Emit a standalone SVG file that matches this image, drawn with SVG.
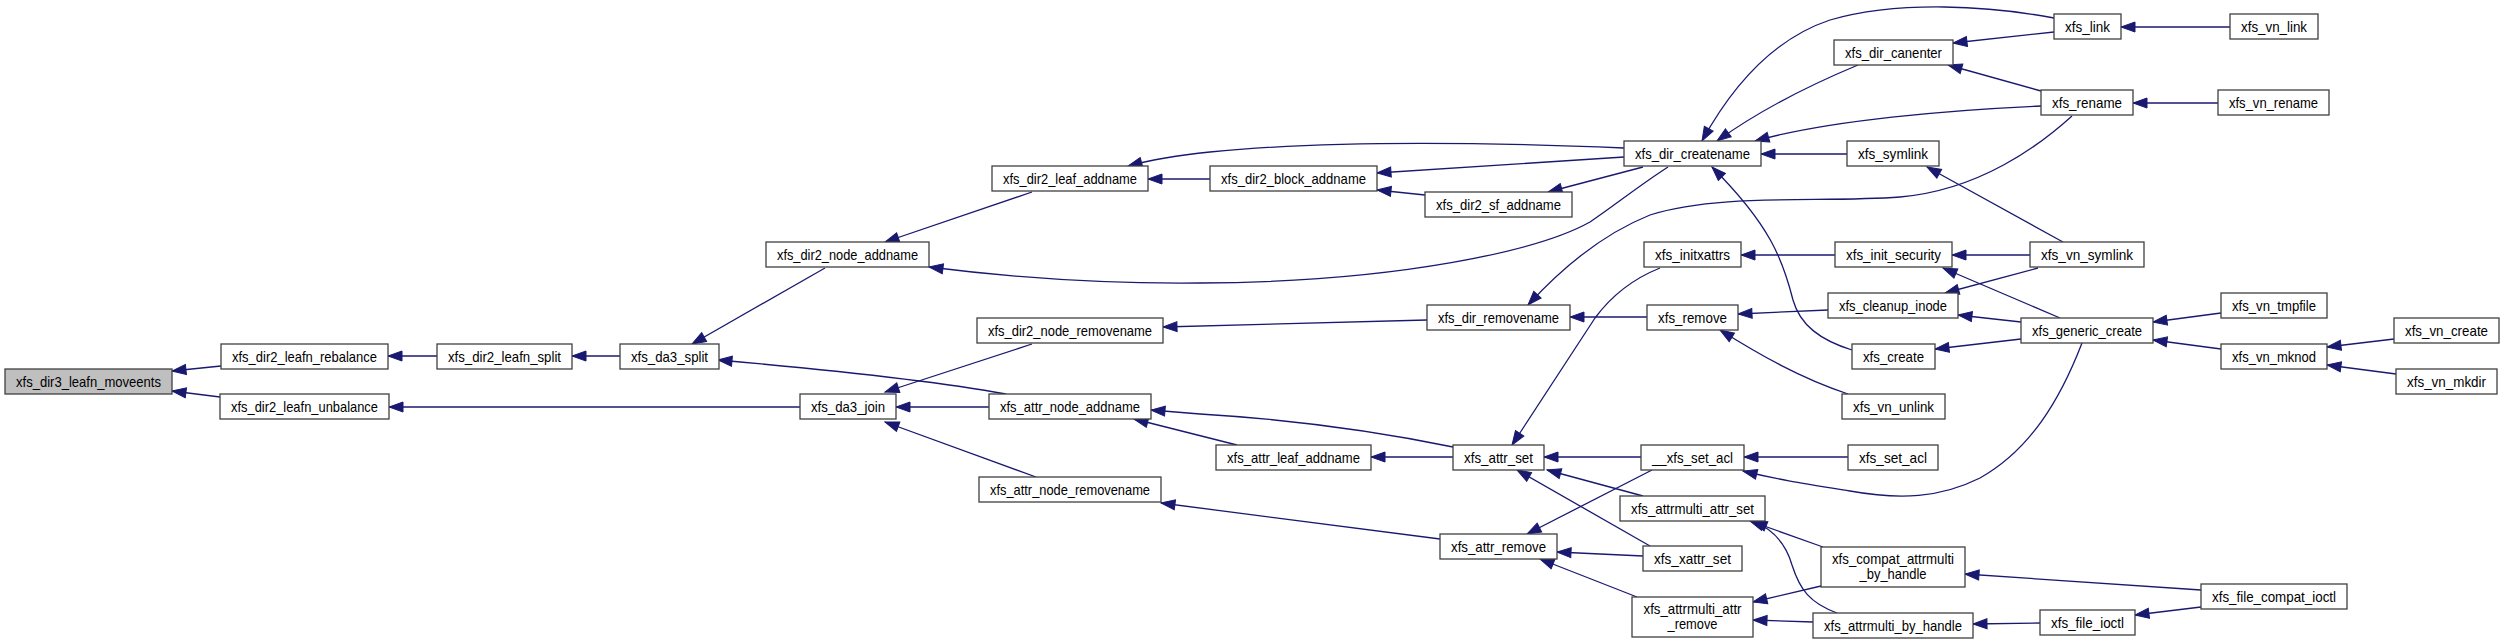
<svg xmlns="http://www.w3.org/2000/svg" width="2504" height="644" viewBox="0 0 2504 644">
<style>
.node rect{fill:#ffffff;stroke:#404040;stroke-width:1.3}
.node.root rect{fill:#bfbfbf}
.node text{font-family:"Liberation Sans",Arial,sans-serif;font-size:15px;fill:#000;text-anchor:middle}
.edges path{fill:none;stroke:#191970;stroke-width:1.3;marker-end:url(#arr)}
</style>
<defs>
<marker id="arr" markerUnits="userSpaceOnUse" markerWidth="16" markerHeight="12" refX="14" refY="5" orient="auto" overflow="visible">
<path d="M0,0 L14,5 L0,10 z" fill="#191970" stroke="#191970" stroke-width="1"/>
</marker>
</defs>
<rect width="2504" height="644" fill="#ffffff"/>
<g class="edges">
<path d="M221,366 L172,371"/>
<path d="M220,397 L172,391"/>
<path d="M437,356 L388,356"/>
<path d="M800,407 L389,407"/>
<path d="M620,356 L572,356"/>
<path d="M825,268 L692,344"/>
<path d="M1006,394 C940,382 820,369 718,360"/>
<path d="M1032,344 L885,392"/>
<path d="M989,407 L896,407"/>
<path d="M1036,477 L885,422"/>
<path d="M1032,192 L885,242"/>
<path d="M1668,167 C1640,185 1615,205 1590,222 C1540,250 1400,282 1200,283 C1100,284 1000,276 929,267"/>
<path d="M1624,148 C1480,142 1330,140 1210,152 C1180,155 1150,160 1128,166"/>
<path d="M1624,157 L1377,173"/>
<path d="M1643,167 L1548,192"/>
<path d="M1210,179 L1148,179"/>
<path d="M1425,195 L1377,190"/>
<path d="M1427,320 L1163,327"/>
<path d="M1647,317 L1570,317"/>
<path d="M2072,116 C2040,145 1980,190 1900,197 C1820,203 1720,193 1650,215 C1600,235 1560,270 1528,305"/>
<path d="M1835,255 L1741,255"/>
<path d="M1660,268 C1635,278 1612,295 1595,318 L1512,445"/>
<path d="M1852,350 C1820,340 1800,325 1793,300 C1783,260 1770,225 1712,167"/>
<path d="M1858,65 C1810,85 1760,110 1717,141"/>
<path d="M2054,18 C1990,6 1900,0 1830,20 C1770,40 1730,90 1702,141"/>
<path d="M2041,106 C1950,110 1830,120 1755,141"/>
<path d="M1847,154 L1761,154"/>
<path d="M2054,32 L1953,43"/>
<path d="M2041,91 L1948,65"/>
<path d="M2230,27 L2121,27"/>
<path d="M2218,103 L2133,103"/>
<path d="M2063,242 L1927,167"/>
<path d="M2030,255 L1952,255"/>
<path d="M2038,268 L1945,293"/>
<path d="M2060,318 L1943,268"/>
<path d="M2021,322 L1958,315"/>
<path d="M2021,339 L1935,349"/>
<path d="M1828,310 L1738,314"/>
<path d="M1848,394 C1800,378 1760,355 1720,330"/>
<path d="M2082,343 C2060,400 2030,450 1980,478 C1940,498 1900,500 1850,491 C1800,483 1780,480 1743,471"/>
<path d="M1848,457 L1744,457"/>
<path d="M1641,457 L1544,457"/>
<path d="M1652,470 L1527,534"/>
<path d="M1643,496 L1547,470"/>
<path d="M1650,546 L1517,470"/>
<path d="M1643,556 L1557,552"/>
<path d="M1637,597 L1540,559"/>
<path d="M1453,457 L1371,457"/>
<path d="M1453,447 C1380,432 1300,420 1200,414 L1151,410"/>
<path d="M1237,445 L1134,419"/>
<path d="M1440,539 L1161,503"/>
<path d="M1823,547 L1750,521"/>
<path d="M1837,613 C1810,603 1800,590 1792,565 C1785,540 1770,528 1753,521"/>
<path d="M1821,586 L1753,602"/>
<path d="M1813,622 L1753,620"/>
<path d="M2201,590 L1965,574"/>
<path d="M2040,623 L1973,624"/>
<path d="M2201,607 L2135,615"/>
<path d="M2221,313 L2153,322"/>
<path d="M2221,349 L2153,340"/>
<path d="M2394,339 L2327,347"/>
<path d="M2396,374 L2327,365"/>
</g>
<g id="n_moveents" class="node root"><rect x="5" y="369" width="167" height="25"/><text x="88.5" y="386.5" textLength="145" lengthAdjust="spacingAndGlyphs">xfs_dir3_leafn_moveents</text></g>
<g id="n_rebalance" class="node"><rect x="221" y="344" width="167" height="25"/><text x="304.5" y="361.5" textLength="145" lengthAdjust="spacingAndGlyphs">xfs_dir2_leafn_rebalance</text></g>
<g id="n_unbalance" class="node"><rect x="220" y="394" width="169" height="25"/><text x="304.5" y="411.5" textLength="147" lengthAdjust="spacingAndGlyphs">xfs_dir2_leafn_unbalance</text></g>
<g id="n_leafn_split" class="node"><rect x="437" y="344" width="135" height="25"/><text x="504.5" y="361.5" textLength="113" lengthAdjust="spacingAndGlyphs">xfs_dir2_leafn_split</text></g>
<g id="n_da3_split" class="node"><rect x="620" y="344" width="99" height="25"/><text x="669.5" y="361.5" textLength="77" lengthAdjust="spacingAndGlyphs">xfs_da3_split</text></g>
<g id="n_da3_join" class="node"><rect x="800" y="394" width="96" height="25"/><text x="848" y="411.5" textLength="74" lengthAdjust="spacingAndGlyphs">xfs_da3_join</text></g>
<g id="n_dir2_node_addname" class="node"><rect x="766" y="242" width="163" height="25"/><text x="847.5" y="259.5" textLength="141" lengthAdjust="spacingAndGlyphs">xfs_dir2_node_addname</text></g>
<g id="n_dir2_leaf_addname" class="node"><rect x="992" y="166" width="156" height="25"/><text x="1070" y="183.5" textLength="134" lengthAdjust="spacingAndGlyphs">xfs_dir2_leaf_addname</text></g>
<g id="n_dir2_node_removename" class="node"><rect x="977" y="318" width="186" height="25"/><text x="1070" y="335.5" textLength="164" lengthAdjust="spacingAndGlyphs">xfs_dir2_node_removename</text></g>
<g id="n_attr_node_addname" class="node"><rect x="989" y="394" width="162" height="25"/><text x="1070" y="411.5" textLength="140" lengthAdjust="spacingAndGlyphs">xfs_attr_node_addname</text></g>
<g id="n_attr_node_removename" class="node"><rect x="979" y="477" width="182" height="25"/><text x="1070" y="494.5" textLength="160" lengthAdjust="spacingAndGlyphs">xfs_attr_node_removename</text></g>
<g id="n_dir2_block_addname" class="node"><rect x="1210" y="166" width="167" height="25"/><text x="1293.5" y="183.5" textLength="145" lengthAdjust="spacingAndGlyphs">xfs_dir2_block_addname</text></g>
<g id="n_dir2_sf_addname" class="node"><rect x="1425" y="192" width="147" height="25"/><text x="1498.5" y="209.5" textLength="125" lengthAdjust="spacingAndGlyphs">xfs_dir2_sf_addname</text></g>
<g id="n_dir_removename" class="node"><rect x="1427" y="305" width="143" height="25"/><text x="1498.5" y="322.5" textLength="121" lengthAdjust="spacingAndGlyphs">xfs_dir_removename</text></g>
<g id="n_attr_leaf_addname" class="node"><rect x="1216" y="445" width="155" height="25"/><text x="1293.5" y="462.5" textLength="133" lengthAdjust="spacingAndGlyphs">xfs_attr_leaf_addname</text></g>
<g id="n_attr_set" class="node"><rect x="1453" y="445" width="91" height="25"/><text x="1498.5" y="462.5" textLength="69" lengthAdjust="spacingAndGlyphs">xfs_attr_set</text></g>
<g id="n_attr_remove" class="node"><rect x="1440" y="534" width="117" height="25"/><text x="1498.5" y="551.5" textLength="95" lengthAdjust="spacingAndGlyphs">xfs_attr_remove</text></g>
<g id="n_dir_createname" class="node"><rect x="1624" y="141" width="137" height="25"/><text x="1692.5" y="158.5" textLength="115" lengthAdjust="spacingAndGlyphs">xfs_dir_createname</text></g>
<g id="n_dir_canenter" class="node"><rect x="1834" y="40" width="119" height="25"/><text x="1893.5" y="57.5" textLength="97" lengthAdjust="spacingAndGlyphs">xfs_dir_canenter</text></g>
<g id="n_symlink" class="node"><rect x="1847" y="141" width="92" height="25"/><text x="1893" y="158.5" textLength="70" lengthAdjust="spacingAndGlyphs">xfs_symlink</text></g>
<g id="n_initxattrs" class="node"><rect x="1644" y="242" width="97" height="25"/><text x="1692.5" y="259.5" textLength="75" lengthAdjust="spacingAndGlyphs">xfs_initxattrs</text></g>
<g id="n_init_security" class="node"><rect x="1835" y="242" width="117" height="25"/><text x="1893.5" y="259.5" textLength="95" lengthAdjust="spacingAndGlyphs">xfs_init_security</text></g>
<g id="n_cleanup_inode" class="node"><rect x="1828" y="293" width="130" height="25"/><text x="1893" y="310.5" textLength="108" lengthAdjust="spacingAndGlyphs">xfs_cleanup_inode</text></g>
<g id="n_remove" class="node"><rect x="1647" y="305" width="91" height="25"/><text x="1692.5" y="322.5" textLength="69" lengthAdjust="spacingAndGlyphs">xfs_remove</text></g>
<g id="n_create" class="node"><rect x="1852" y="344" width="83" height="25"/><text x="1893.5" y="361.5" textLength="61" lengthAdjust="spacingAndGlyphs">xfs_create</text></g>
<g id="n_vn_unlink" class="node"><rect x="1842" y="394" width="103" height="25"/><text x="1893.5" y="411.5" textLength="81" lengthAdjust="spacingAndGlyphs">xfs_vn_unlink</text></g>
<g id="n___xfs_set_acl" class="node"><rect x="1641" y="445" width="103" height="25"/><text x="1692.5" y="462.5" textLength="81" lengthAdjust="spacingAndGlyphs">__xfs_set_acl</text></g>
<g id="n_set_acl" class="node"><rect x="1848" y="445" width="90" height="25"/><text x="1893" y="462.5" textLength="68" lengthAdjust="spacingAndGlyphs">xfs_set_acl</text></g>
<g id="n_attrmulti_attr_set" class="node"><rect x="1620" y="496" width="145" height="25"/><text x="1692.5" y="513.5" textLength="123" lengthAdjust="spacingAndGlyphs">xfs_attrmulti_attr_set</text></g>
<g id="n_xattr_set" class="node"><rect x="1643" y="546" width="99" height="25"/><text x="1692.5" y="563.5" textLength="77" lengthAdjust="spacingAndGlyphs">xfs_xattr_set</text></g>
<g id="n_compat_attrmulti_by_handle" class="node"><rect x="1821" y="547" width="144" height="40"/><text x="1893" y="564" textLength="122" lengthAdjust="spacingAndGlyphs">xfs_compat_attrmulti</text><text x="1893" y="579" textLength="67" lengthAdjust="spacingAndGlyphs">_by_handle</text></g>
<g id="n_attrmulti_attr_remove" class="node"><rect x="1632" y="597" width="121" height="40"/><text x="1692.5" y="614" textLength="98" lengthAdjust="spacingAndGlyphs">xfs_attrmulti_attr</text><text x="1692.5" y="629" textLength="50" lengthAdjust="spacingAndGlyphs">_remove</text></g>
<g id="n_attrmulti_by_handle" class="node"><rect x="1813" y="613" width="160" height="25"/><text x="1893" y="630.5" textLength="138" lengthAdjust="spacingAndGlyphs">xfs_attrmulti_by_handle</text></g>
<g id="n_link" class="node"><rect x="2054" y="14" width="67" height="25"/><text x="2087.5" y="31.5" textLength="45" lengthAdjust="spacingAndGlyphs">xfs_link</text></g>
<g id="n_vn_link" class="node"><rect x="2230" y="14" width="88" height="25"/><text x="2274" y="31.5" textLength="66" lengthAdjust="spacingAndGlyphs">xfs_vn_link</text></g>
<g id="n_rename" class="node"><rect x="2041" y="90" width="92" height="25"/><text x="2087" y="107.5" textLength="70" lengthAdjust="spacingAndGlyphs">xfs_rename</text></g>
<g id="n_vn_rename" class="node"><rect x="2218" y="90" width="111" height="25"/><text x="2273.5" y="107.5" textLength="89" lengthAdjust="spacingAndGlyphs">xfs_vn_rename</text></g>
<g id="n_vn_symlink" class="node"><rect x="2030" y="242" width="114" height="25"/><text x="2087" y="259.5" textLength="92" lengthAdjust="spacingAndGlyphs">xfs_vn_symlink</text></g>
<g id="n_vn_tmpfile" class="node"><rect x="2221" y="293" width="106" height="25"/><text x="2274" y="310.5" textLength="84" lengthAdjust="spacingAndGlyphs">xfs_vn_tmpfile</text></g>
<g id="n_generic_create" class="node"><rect x="2021" y="318" width="132" height="25"/><text x="2087" y="335.5" textLength="110" lengthAdjust="spacingAndGlyphs">xfs_generic_create</text></g>
<g id="n_vn_create" class="node"><rect x="2394" y="318" width="105" height="25"/><text x="2446.5" y="335.5" textLength="83" lengthAdjust="spacingAndGlyphs">xfs_vn_create</text></g>
<g id="n_vn_mknod" class="node"><rect x="2221" y="344" width="106" height="25"/><text x="2274" y="361.5" textLength="84" lengthAdjust="spacingAndGlyphs">xfs_vn_mknod</text></g>
<g id="n_vn_mkdir" class="node"><rect x="2396" y="369" width="101" height="25"/><text x="2446.5" y="386.5" textLength="79" lengthAdjust="spacingAndGlyphs">xfs_vn_mkdir</text></g>
<g id="n_file_compat_ioctl" class="node"><rect x="2201" y="584" width="146" height="25"/><text x="2274" y="601.5" textLength="124" lengthAdjust="spacingAndGlyphs">xfs_file_compat_ioctl</text></g>
<g id="n_file_ioctl" class="node"><rect x="2040" y="610" width="95" height="25"/><text x="2087.5" y="627.5" textLength="73" lengthAdjust="spacingAndGlyphs">xfs_file_ioctl</text></g>
</svg>
